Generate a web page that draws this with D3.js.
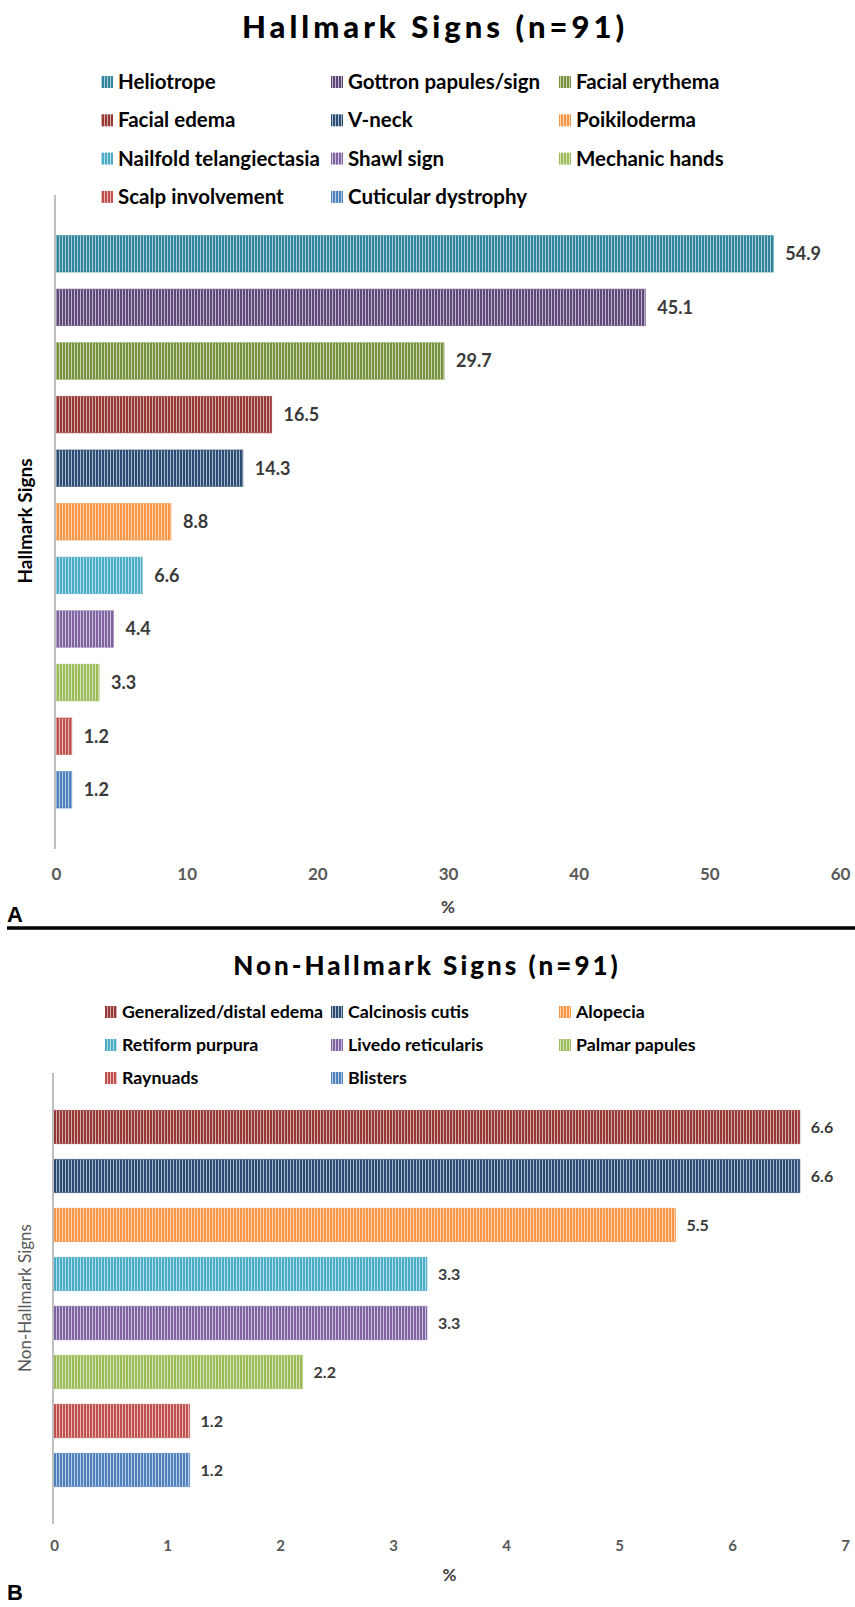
<!DOCTYPE html>
<html>
<head>
<meta charset="utf-8">
<script src="https://cdn.jsdelivr.net/npm/d3@7/dist/d3.min.js"></script>
<style>
    body { margin: 0; background: #fff; }
    svg { display: block; font-family: Lato, 'Open Sans', sans-serif; }
</style>
</head>
<body>
<svg id="chart"></svg>
<script>
// panel A data
const hallmarkSigns = ['Heliotrope', 'Gottron papules/sign', 'Facial erythema', 'Facial edema', 'V-neck',
    'Poikiloderma', 'Nailfold telangiectasia', 'Shawl sign', 'Mechanic hands', 'Scalp involvement', 'Cuticular dystrophy']
const hallmarkValues = [54.9, 45.1, 29.7, 16.5, 14.3, 8.8, 6.6, 4.4, 3.3, 1.2, 1.2]
const hallmarkColors = ['#31859C', '#5F497A', '#76923C', '#953735', '#2C4D75', '#F79646',
    '#4BACC6', '#8064A2', '#9BBB59', '#C0504D', '#4F81BD']
const hallmarkTicks = [0, 10, 20, 30, 40, 50, 60]

// panel B data
const nonHallmarkSigns = ['Generalized/distal edema', 'Calcinosis cutis', 'Alopecia', 'Retiform purpura',
    'Livedo reticularis', 'Palmar papules', 'Raynuads', 'Blisters']
const nonHallmarkValues = [6.6, 6.6, 5.5, 3.3, 3.3, 2.2, 1.2, 1.2]
const nonHallmarkColors = ['#953735', '#2C4D75', '#F79646', '#4BACC6', '#8064A2', '#9BBB59', '#C0504D', '#4F81BD']
const nonHallmarkTicks = [0, 1, 2, 3, 4, 5, 6, 7]

const W = 855, H = 1607

const svg = d3.select('#chart')
    .attr('width', W)
    .attr('height', H)

const defs = svg.append('defs')

// excel style vertical stripe fill
function stripe(color) {
    const id = 'stripe' + color.replace('#', '')
    if (!defs.select('#' + id).empty()) return `url(#${id})`
    const p = defs.append('pattern')
        .attr('id', id)
        .attr('patternUnits', 'userSpaceOnUse')
        .attr('width', 3)
        .attr('height', 3)
    p.append('rect').attr('width', 3).attr('height', 3).attr('fill', color)
    p.append('rect').attr('x', 2).attr('width', 1).attr('height', 3)
        .attr('fill', '#fff').attr('opacity', 0.6)
    return `url(#${id})`
}

function drawPanel(o) {
    const g = svg.append('g')

    const xScale = d3.scaleLinear()
        .domain([0, d3.max(o.ticks)])
        .range([o.x0, o.x1])
    const yScale = d3.scaleBand()
        .domain(o.categories)
        .range([o.bandTop, o.bandBottom])
        .paddingInner(0.32)
        .paddingOuter(0.16)

    // title
    g.append('text')
        .attr('x', o.titleX)
        .attr('y', o.titleY)
        .attr('text-anchor', 'middle')
        .style('font-size', o.titleSize + 'px')
        .style('font-weight', 900)
        .style('letter-spacing', o.titleSpacing + 'px')
        .attr('fill', '#000')
        .text(o.title)

    // legend, row major, 3 columns
    const leg = g.append('g')
    o.categories.forEach((c, i) => {
        const col = i % 3, row = Math.floor(i / 3)
        const lx = o.legendX[col], ly = o.legendY + row * o.legendStep
        leg.append('rect')
            .attr('x', lx).attr('y', ly - 6)
            .attr('width', 12).attr('height', 12)
            .attr('fill', stripe(o.colors[i]))
        leg.append('text')
            .attr('x', lx + 17).attr('y', ly)
            .attr('dy', '0.35em')
            .style('font-size', o.legendSize + 'px')
            .style('font-weight', 700)
            .attr('fill', '#000')
            .text(c)
    })

    // bars
    g.selectAll('.bar')
        .data(o.values)
        .join('rect')
        .attr('class', 'bar')
        .attr('x', xScale(0))
        .attr('y', (d, i) => yScale(o.categories[i]))
        .attr('width', d => xScale(d) - xScale(0))
        .attr('height', yScale.bandwidth())
        .attr('fill', (d, i) => stripe(o.colors[i]))
        .attr('stroke', (d, i) => o.colors[i])
        .attr('stroke-opacity', 0.6)
        .attr('stroke-width', 1)

    g.selectAll('.val')
        .data(o.values)
        .join('text')
        .attr('class', 'val')
        .attr('x', d => xScale(d) + o.valueGap)
        .attr('y', (d, i) => yScale(o.categories[i]) + yScale.bandwidth() / 2)
        .attr('dy', '0.35em')
        .style('font-size', o.valueSize + 'px')
        .style('font-weight', 700)
        .attr('fill', '#3a3a3a')
        .text(d => d.toFixed(1))

    // vertical axis line
    g.append('line')
        .attr('x1', xScale(0) - 1).attr('x2', xScale(0) - 1)
        .attr('y1', o.axisTop).attr('y2', o.axisBottom)
        .attr('stroke', '#BFBFBF')
        .attr('stroke-width', 2)

    // x axis labels
    const xAxis = g.append('g')
        .attr('transform', `translate(0, ${o.tickY})`)
        .call(d3.axisBottom(xScale).tickValues(o.ticks).tickSize(0).tickFormat(d3.format('d')))
    xAxis.select('.domain').remove()
    xAxis.selectAll('text')
        .attr('y', 0)
        .attr('dy', '0.35em')
        .style('font-family', 'Lato, sans-serif')
        .style('font-size', o.tickSize + 'px')
        .style('font-weight', 700)
        .attr('fill', '#595959')

    g.append('text')
        .attr('x', (xScale.range()[0] + xScale.range()[1]) / 2)
        .attr('y', o.xLabelY)
        .attr('dy', '0.35em')
        .attr('text-anchor', 'middle')
        .style('font-size', '17px')
        .style('font-weight', 700)
        .attr('fill', '#404040')
        .text('%')

    // y axis title
    g.append('text')
        .attr('transform', `translate(25, ${o.yLabelY}) rotate(-90)`)
        .attr('dy', '0.35em')
        .attr('text-anchor', 'middle')
        .style('font-size', o.yLabelSize + 'px')
        .style('font-weight', o.yLabelWeight)
        .attr('fill', o.yLabelColor)
        .text(o.yLabel)

    // panel letter
    g.append('text')
        .attr('x', 7)
        .attr('y', o.letterY)
        .style('font-family', "'Liberation Sans', Arial, sans-serif")
        .style('font-size', '22px')
        .style('font-weight', 700)
        .attr('fill', '#000')
        .text(o.letter)
}

drawPanel({
    title: 'Hallmark Signs (n=91)', titleX: 435, titleY: 38, titleSize: 31, titleSpacing: 4,
    categories: hallmarkSigns, values: hallmarkValues, colors: hallmarkColors, ticks: hallmarkTicks,
    legendX: [101, 331, 559], legendY: 82, legendStep: 38.3, legendSize: 20.5,
    x0: 56, x1: 840, bandTop: 227, bandBottom: 816.6,
    axisTop: 195, axisBottom: 849, tickY: 874, tickSize: 17, xLabelY: 907,
    valueGap: 12, valueSize: 18,
    yLabel: 'Hallmark Signs', yLabelY: 521, yLabelSize: 19, yLabelWeight: 700, yLabelColor: '#000',
    letter: 'A', letterY: 922
})

// separator between the two panels
svg.append('line')
    .attr('x1', 7).attr('x2', W)
    .attr('y1', 928).attr('y2', 928)
    .attr('stroke', '#000')
    .attr('stroke-width', 3.5)

drawPanel({
    title: 'Non-Hallmark Signs (n=91)', titleX: 427, titleY: 975, titleSize: 26, titleSpacing: 3,
    categories: nonHallmarkSigns, values: nonHallmarkValues, colors: nonHallmarkColors, ticks: nonHallmarkTicks,
    legendX: [105, 331, 559], legendY: 1012, legendStep: 33, legendSize: 17.8,
    x0: 54, x1: 845, bandTop: 1102.5, bandBottom: 1494.5,
    axisTop: 1073, axisBottom: 1524, tickY: 1546, tickSize: 15, xLabelY: 1575,
    valueGap: 11, valueSize: 16,
    yLabel: 'Non-Hallmark Signs', yLabelY: 1298, yLabelSize: 17, yLabelWeight: 400, yLabelColor: '#595959',
    letter: 'B', letterY: 1600
})
</script>
</body>
</html>
